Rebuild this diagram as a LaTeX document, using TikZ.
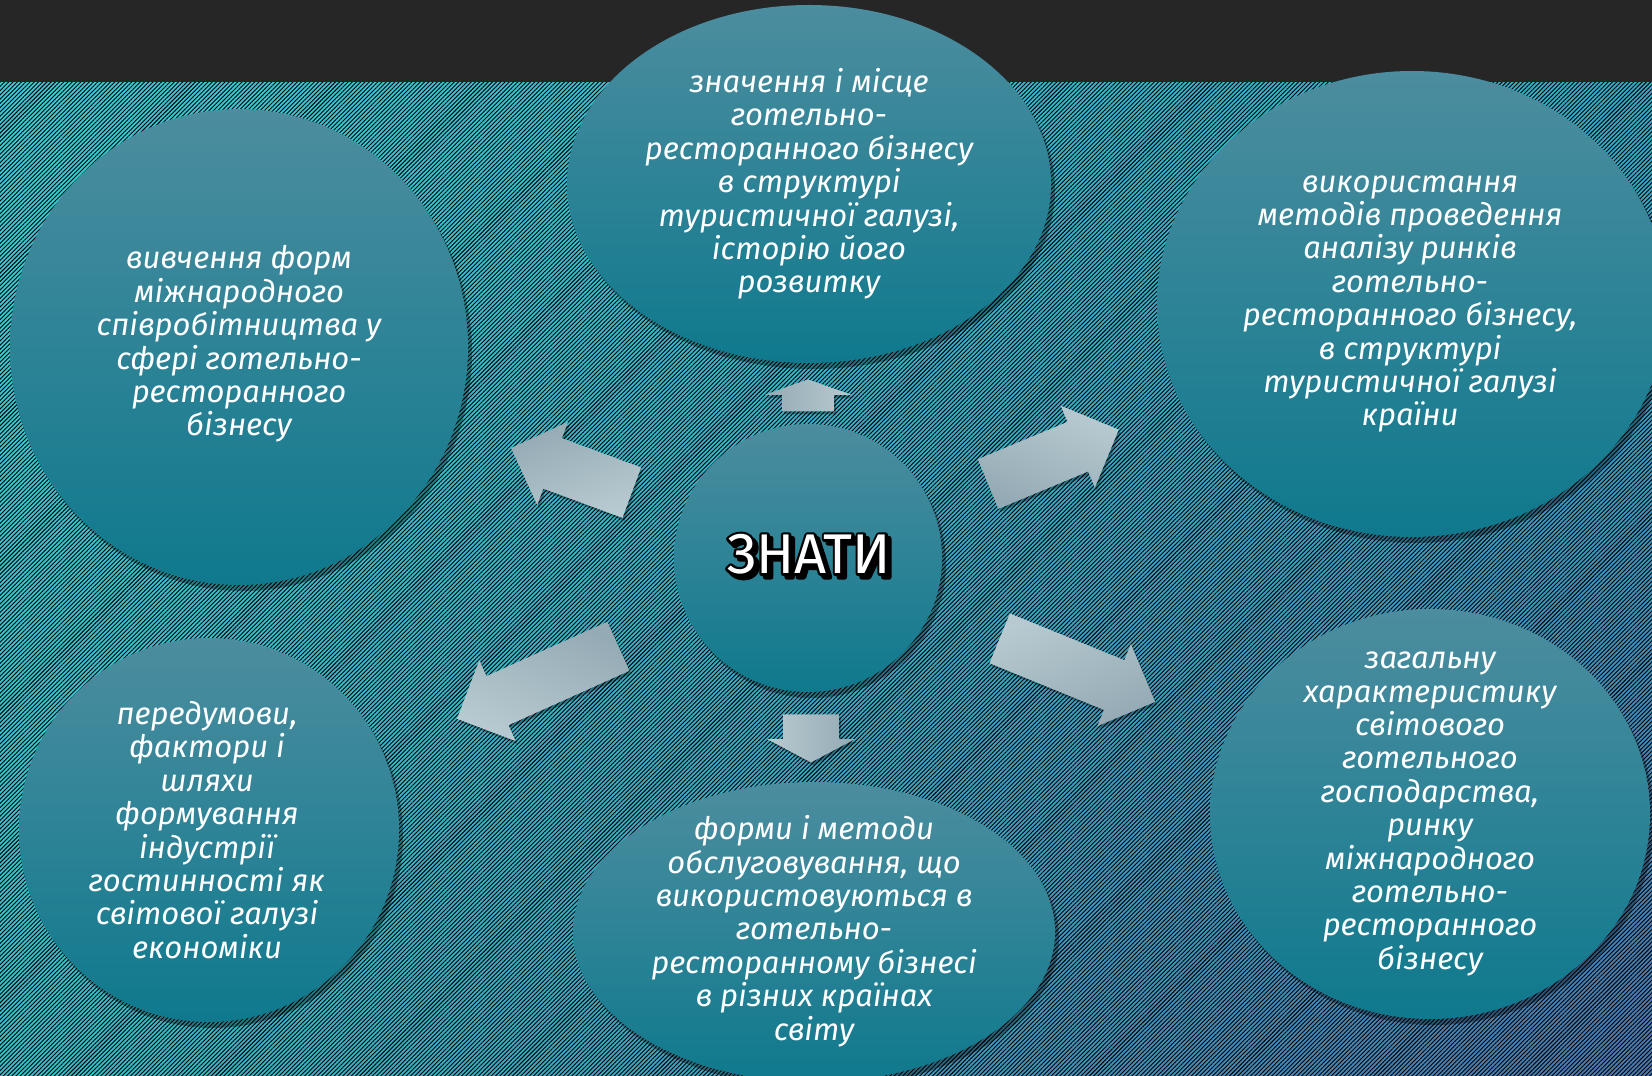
\documentclass[tikz,border=0pt]{standalone}
\usepackage{fontspec}
\setmainfont{Fira Sans}
\usetikzlibrary{shapes.geometric,shapes.arrows,shadows,shadings,patterns.meta}
\definecolor{band}{HTML}{262626}
\definecolor{bgTL}{HTML}{3ACCD6}
\definecolor{bgTR}{HTML}{32ACC6}
\definecolor{bgBL}{HTML}{36C0CA}
\definecolor{bgBR}{HTML}{4A78B0}
\definecolor{bubtop}{HTML}{4C8D9F}
\definecolor{bubbot}{HTML}{0F798D}
\definecolor{arrtop}{HTML}{B8CAD1}
\definecolor{arrbot}{HTML}{94AAB4}
\newcommand{\zword}{%
  \makebox[0pt][l]{\hspace{1.8pt}\raisebox{-1.8pt}{\special{pdf:literal direct 2 Tr 2.6 w 1 j 0 0 0 RG 0 0 0 rg}ЗНАТИ\special{pdf:literal direct 0 Tr}}}%
  \makebox[0pt][l]{\special{pdf:literal direct 1 Tr 2.6 w 1 j 0 0 0 RG}ЗНАТИ\special{pdf:literal direct 0 Tr}}%
  \textcolor{white}{ЗНАТИ}}
\tikzset{
  bubble/.style={ellipse, inner sep=0pt, top color=bubtop, bottom color=bubbot,
    drop shadow={shadow xshift=2pt, shadow yshift=-3pt, opacity=0.35, fill=black}},
  btext/.style={text=white, align=center, inner sep=0pt,
    font=\fontsize{15.5}{16.7}\selectfont\itshape},
  bigarrow/.style={single arrow, inner xsep=0pt, rotate=#1,
    top color=arrtop, bottom color=arrbot, shading angle=-#1,
    drop shadow={shadow xshift=1pt, shadow yshift=-1.5pt, opacity=0.3, fill=black}},
  zn/.style={font=\fontsize{28}{30}\selectfont, inner sep=0pt}
}
\begin{document}
\begin{tikzpicture}[x=0.5pt,y=-0.5pt]
\useasboundingbox (0,0) rectangle (1652,1075);
% background
\fill[band] (0,0) rectangle (1652,83);
\shade[upper left=bgTL, upper right=bgTR, lower left=bgBL, lower right=bgBR] (0,83) rectangle (1652,1075);
\fill[pattern={Lines[angle=45,distance=1.5pt,line width=0.45pt]}, pattern color=black, fill opacity=0.85] (0,83) rectangle (1652,1075);

% bubbles
\node[bubble, minimum width=242pt, minimum height=179pt] (t) at (809,184) {};
\node[bubble, minimum width=229pt, minimum height=238pt] (tl) at (239,347) {};
\node[bubble, minimum width=255pt, minimum height=233pt] (tr) at (1412,304) {};
\node[bubble, minimum width=190pt, minimum height=192pt] (bl) at (209,830) {};
\node[bubble, minimum width=241pt, minimum height=150pt] (b) at (814,932) {};
\node[bubble, minimum width=220pt, minimum height=205pt] (br) at (1430,814) {};
\node[bubble, minimum width=134pt, minimum height=134pt] (c) at (808,558) {};

% arrows
\node[bigarrow=90, minimum height=16pt, inner ysep=12.75pt, single arrow head extend=8.75pt, single arrow tip angle=141] (au) at (808,400) {};
\node[bigarrow=-90, minimum height=24pt, inner ysep=13.75pt, single arrow head extend=8pt, single arrow tip angle=124] (ad) at (811,731) {};
\node[bigarrow=159.7, minimum height=64.4pt, inner ysep=13.25pt, single arrow head extend=8.75pt, single arrow tip angle=90] (aul) at (584,475) {};
\node[bigarrow=22.6, minimum height=70.8pt, inner ysep=13.25pt, single arrow head extend=8.75pt, single arrow tip angle=90] (aur) at (1041,462) {};
\node[bigarrow=204.2, minimum height=88.5pt, inner ysep=13.25pt, single arrow head extend=8.75pt, single arrow tip angle=90] (all) at (550,677) {};
\node[bigarrow=-22.2, minimum height=84pt, inner ysep=13.25pt, single arrow head extend=8.75pt, single arrow tip angle=90] (alr) at (1065,665) {};

% texts
\node[btext] (tt) at (809,184) {значення і місце\\готельно-\\ресторанного бізнесу\\в структурі\\туристичної галузі,\\історію його\\розвитку};
\node[btext] (tlt) at (239,344) {вивчення форм\\міжнародного\\співробітництва у\\сфері готельно-\\ресторанного\\бізнесу};
\node[btext] (trt) at (1410,304) {використання\\методів проведення\\аналізу ринків\\готельно-\\ресторанного бізнесу,\\в структурі\\туристичної галузі\\країни};
\node[btext] (blt) at (207,830) {передумови,\\фактори і\\шляхи\\формування\\індустрії\\гостинності як\\світової галузі\\економіки};
\node[btext] (bt) at (814,931) {форми і методи\\обслуговування, що\\використовуються в\\готельно-\\ресторанному бізнесі\\в різних країнах\\світу};
\node[btext] (brt) at (1430,814) {загальну\\характеристику\\світового\\готельного\\господарства,\\ринку\\міжнародного\\готельно-\\ресторанного\\бізнесу};

% centre word with outline and shadow
\node[zn] (z) at (809,556) {\zword};
\end{tikzpicture}
\end{document}
